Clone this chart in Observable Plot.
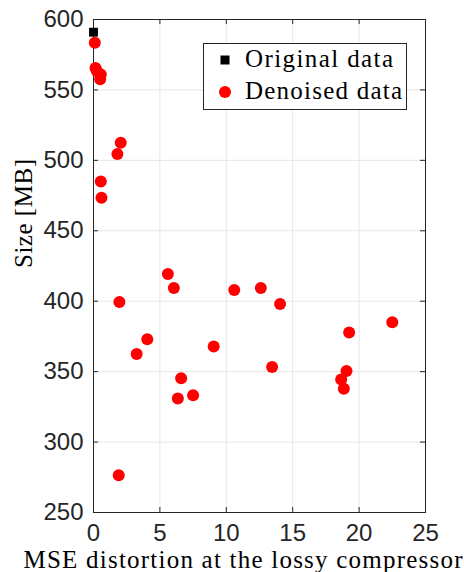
<!DOCTYPE html>
<html><head><meta charset="utf-8">
<script src="https://cdn.jsdelivr.net/npm/d3@7"></script>
<script src="https://cdn.jsdelivr.net/npm/@observablehq/plot@0.6"></script>
<style>
body{margin:0;background:#fff;}
#wrap{position:relative;width:464px;height:572px;}
#legend{position:absolute;left:0;top:0;}
</style></head>
<body><div id="wrap">
<svg id="legend" width="464" height="572" xmlns="http://www.w3.org/2000/svg" font-family="Liberation Serif" font-size="25">
  <rect x="203.5" y="43.5" width="203" height="66" fill="#fff" stroke="#262626" stroke-width="1"></rect>
  <rect x="220.5" y="55.5" width="9" height="9" fill="#000"></rect>
  <text x="245" y="67" textLength="148" lengthAdjust="spacing" fill="#000">Original data</text>
  <circle cx="225" cy="92" r="6" fill="#ff0000"></circle>
  <text x="245" y="98.5" textLength="157" lengthAdjust="spacing" fill="#000">Denoised data</text>
</svg>
</div>
<script>
const origMSE = [0];
const origSize = [591];
const denMSE = [0.1, 0.15, 0.25, 0.55, 0.5, 1.8, 2.05, 0.55, 0.6, 1.95, 3.25, 4.05, 5.6, 6.05, 10.6, 12.6, 9.05, 6.6, 6.35, 7.5, 1.9, 14.05, 22.5, 19.25, 13.45, 19.05, 18.65, 18.85];
const denSize = [583.5, 565.5, 563.5, 561, 557.5, 504.5, 512.5, 485, 473.5, 399.5, 362.5, 373, 419.3, 409.4, 408, 409.4, 367.8, 345.3, 331, 333.2, 276.5, 398, 385, 377.8, 353.3, 350.5, 344.5, 337.8];
const xTicks = [0, 5, 10, 15, 20, 25];
const yTicks = [250, 300, 350, 400, 450, 500, 550, 600];
const xLabel = "MSE distortion at the lossy compressor";
const yLabel = "Size [MB]";

const W = 464, H = 572, mL = 93, mR = 39, mT = 19, mB = 60;
const innerH = H - mT - mB, innerW = W - mL - mR;
const den = denMSE.map((x, i) => ({x, y: denSize[i]}));
const orig = origMSE.map((x, i) => ({x, y: origSize[i]}));
const axisColor = "#262626";
const sans = "Liberation Sans";
const serif = "Liberation Serif";

const chart = Plot.plot({
  width: W, height: H, marginLeft: mL, marginRight: mR, marginTop: mT, marginBottom: mB,
  style: {background: "#fff"},
  x: {domain: [0, 25]},
  y: {domain: [250, 600]},
  marks: [
    Plot.gridX(xTicks, {stroke: "#e6e6e6", strokeOpacity: 1}),
    Plot.gridY(yTicks, {stroke: "#e6e6e6", strokeOpacity: 1}),
    Plot.tickX(xTicks, {x: d => d, insetTop: innerH - 5, stroke: axisColor}),
    Plot.tickX(xTicks, {x: d => d, insetBottom: innerH - 5, stroke: axisColor}),
    Plot.tickY(yTicks, {y: d => d, insetRight: innerW - 5, stroke: axisColor}),
    Plot.tickY(yTicks, {y: d => d, insetLeft: innerW - 5, stroke: axisColor}),
    Plot.frame({stroke: axisColor, strokeWidth: 1}),
    Plot.axisX({ticks: xTicks, tickSize: 0, tickPadding: 11, fontSize: 24, fontFamily: sans, label: null, color: axisColor}),
    Plot.axisY({ticks: yTicks, tickSize: 0, tickPadding: 10, fontSize: 24, fontFamily: sans, label: null, color: axisColor}),
    Plot.dot(den, {x: "x", y: "y", r: 6, fill: "#ff0000", stroke: null}),
    Plot.dot(orig, {x: "x", y: "y", r: 5, symbol: "square", fill: "#000", stroke: null}),
    Plot.text([xLabel], {text: d => d, frameAnchor: "bottom", lineAnchor: "bottom", dy: 55, dx: -16.5, fontSize: 25, fontFamily: serif, fill: "#000", className: "xlab"}),
    Plot.text([yLabel], {text: d => d, frameAnchor: "left", lineAnchor: "bottom", dx: -61.5, dy: 2, rotate: -90, fontSize: 25, fontFamily: serif, fill: "#000", className: "ylab"})
  ]
});
document.getElementById("wrap").prepend(chart);
d3.select(chart).selectAll(".xlab text").attr("textLength", 439).attr("lengthAdjust", "spacing");
d3.select(chart).selectAll(".ylab text").attr("textLength", 109).attr("lengthAdjust", "spacing");
</script></body></html>
